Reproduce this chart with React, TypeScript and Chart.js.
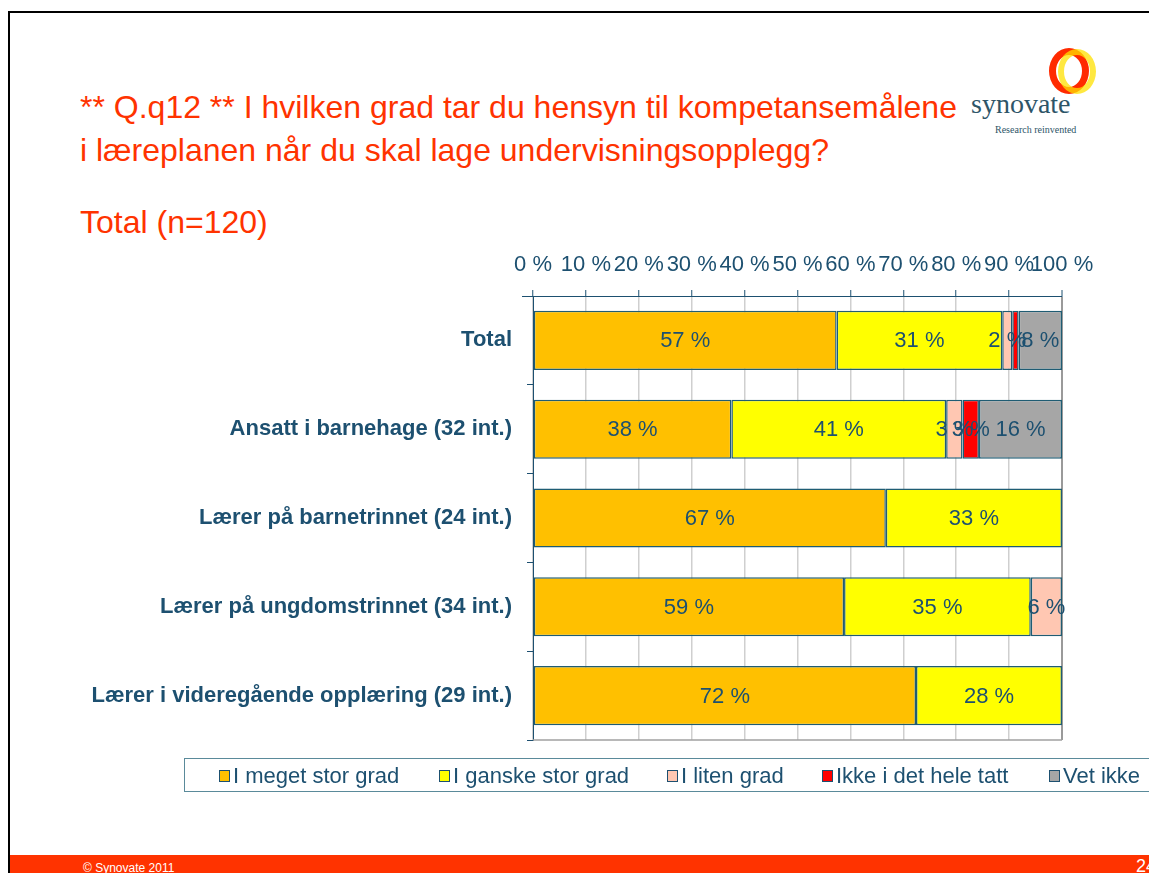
import React, { useEffect, useRef } from "react";
import { Chart, registerables } from "chart.js";

Chart.register(...registerables);

const categories = [
  "Total",
  "Ansatt i barnehage (32 int.)",
  "Lærer på barnetrinnet (24 int.)",
  "Lærer på ungdomstrinnet (34 int.)",
  "Lærer i videregående opplæring (29 int.)",
];
const seriesNames = ["I meget stor grad", "I ganske stor grad", "I liten grad", "Ikke i det hele tatt", "Vet ikke"];
const meget = [57.4, 37.5, 66.7, 58.8, 72.4];
const ganske = [31.3, 40.6, 33.3, 35.3, 27.6];
const liten = [1.9, 3.1, 0, 5.9, 0];
const ikke = [1.2, 3.1, 0, 0, 0];
const vetIkke = [8.2, 15.7, 0, 0, 0];
const xTicks = [0, 10, 20, 30, 40, 50, 60, 70, 80, 90, 100];
const colors = ["#FFC000", "#FFFF00", "#FFC7B2", "#FF0000", "#A6A6A6"];

const TEAL = "#1D5070";
const BORDER = "#1F5C73";
const FONT = "'Liberation Sans', Arial, sans-serif";

const labelPlugin = {
  id: "segLabels",
  afterDatasetsDraw(chart: any) {
    const ctx = chart.ctx;
    ctx.save();
    ctx.font = `22px ${FONT}`;
    ctx.fillStyle = TEAL;
    ctx.textAlign = "center";
    ctx.textBaseline = "middle";
    chart.data.datasets.forEach((ds: any, i: number) => {
      const meta = chart.getDatasetMeta(i);
      meta.data.forEach((el: any, j: number) => {
        const v = ds.data[j];
        if (v < 1.5) return;
        const cx = (el.x + el.base) / 2;
        ctx.fillText(Math.round(v) + " %", cx, el.y + 1);
      });
    });
    ctx.restore();
  },
  beforeDatasetsDraw(chart: any) {
    const { ctx, chartArea } = chart;
    ctx.save();
    ctx.strokeStyle = "#A0A0A0";
    ctx.lineWidth = 1.5;
    ctx.beginPath();
    ctx.moveTo(chartArea.left, chartArea.bottom);
    ctx.lineTo(chartArea.right, chartArea.bottom);
    ctx.stroke();
    ctx.strokeStyle = TEAL;
    ctx.lineWidth = 1;
    ctx.beginPath();
    ctx.moveTo(chartArea.left - 11, chartArea.top + 0.5);
    ctx.lineTo(chartArea.left, chartArea.top + 0.5);
    ctx.stroke();
    ctx.restore();
  },
};

function ChartBox() {
  const ref = useRef<HTMLCanvasElement>(null);
  useEffect(() => {
    if (!ref.current) return;
    const series = [meget, ganske, liten, ikke, vetIkke];
    const chart = new Chart(ref.current, {
      type: "bar",
      data: {
        labels: categories,
        datasets: series.map((d, i) => ({
          label: seriesNames[i],
          data: d,
          backgroundColor: colors[i],
          borderColor: BORDER,
          borderWidth: 1.5,
          borderSkipped: false,
          categoryPercentage: 1,
          barPercentage: 0.665,
        })),
      },
      options: {
        indexAxis: "y",
        animation: false,
        responsive: false,
        maintainAspectRatio: false,
        layout: { padding: { top: 0, right: 50, bottom: 30, left: 0 } },
        plugins: { legend: { display: false }, tooltip: { enabled: false } },
        scales: {
          x: {
            position: "top",
            stacked: true,
            min: 0,
            max: 100,
            afterBuildTicks: (s: any) => {
              s.ticks = xTicks.map((v) => ({ value: v }));
            },
            afterFit: (s: any) => {
              s.height = 56;
            },
            ticks: {
              color: TEAL,
              font: { family: FONT, size: 22 },
              padding: 12,
              callback: (v: any) => v + " %",
              maxRotation: 0,
              autoSkip: false,
            },
            grid: {
              color: (c: any) => (c.tick && c.tick.value === 100 ? "#9A9A9A" : "#CFCFCF"),
              lineWidth: (c: any) => (c.tick && c.tick.value === 100 ? 2 : 1.5),
              tickColor: TEAL,
              tickLength: 6,
              tickWidth: 1,
            },
            border: { display: true, color: TEAL, width: 1 },
          },
          y: {
            stacked: true,
            afterFit: (s: any) => {
              s.width = 473;
            },
            ticks: {
              color: TEAL,
              font: { family: FONT, size: 22, weight: "bold" },
              padding: 15,
            },
            grid: {
              offset: true,
              drawOnChartArea: false,
              tickColor: TEAL,
              tickLength: 6,
              tickWidth: 1,
            },
            border: { display: true, color: TEAL, width: 1 },
          },
        },
      },
      plugins: [labelPlugin],
    } as any);
    return () => chart.destroy();
  }, []);
  return (
    <canvas
      ref={ref}
      width={1052}
      height={530}
      style={{ position: "absolute", left: 60, top: 240, width: 1052, height: 530 }}
    />
  );
}

export default function App() {
  const legendXs = [219, 439, 667, 822, 1049];
  return (
    <div
      style={{
        position: "absolute",
        left: 0,
        top: 0,
        width: 1149,
        height: 873,
        overflow: "hidden",
        background: "#fff",
        fontFamily: FONT,
      }}
    >
      {/* frame */}
      <div style={{ position: "absolute", left: 8, top: 11, width: 1160, height: 900, borderLeft: "2px solid #000", borderTop: "2px solid #000" }} />
      {/* title */}
      <div style={{ position: "absolute", left: 80, top: 86, color: "#FF3300", fontSize: 32, lineHeight: "43px", whiteSpace: "nowrap" }}>
        ** Q.q12 ** I hvilken grad tar du hensyn til kompetansemålene
        <br />i læreplanen når du skal lage undervisningsopplegg?
      </div>
      <div style={{ position: "absolute", left: 80, top: 203, color: "#FF3300", fontSize: 32, lineHeight: "38px", whiteSpace: "nowrap" }}>
        Total (n=120)
      </div>
      {/* logo */}
      <div style={{ position: "absolute", left: 1049, top: 48, width: 40, height: 46, borderRadius: "50%", border: "7px solid #FF2A00", boxSizing: "border-box" }} />
      <div style={{ position: "absolute", left: 1058, top: 49, width: 38, height: 45, borderRadius: "50%", border: "6px solid #FFE000", boxSizing: "border-box", opacity: 0.75 }} />
      <div style={{ position: "absolute", left: 971, top: 89, color: "#2E5568", fontFamily: "'Liberation Serif', serif", fontSize: 28, lineHeight: "30px", whiteSpace: "nowrap" }}>
        synovate
      </div>
      <div style={{ position: "absolute", left: 995, top: 124, color: "#2E5568", fontFamily: "'Liberation Serif', serif", fontSize: 10, whiteSpace: "nowrap" }}>
        Research reinvented
      </div>
      <ChartBox />
      {/* legend */}
      <div style={{ position: "absolute", left: 184, top: 758, width: 1000, height: 34, border: "1px solid #5A8A9A", boxSizing: "border-box" }} />
      {seriesNames.map((n, i) => (
        <div key={n} style={{ position: "absolute", left: legendXs[i], top: 762, height: 28, display: "flex", alignItems: "center", whiteSpace: "nowrap" }}>
          <span style={{ display: "inline-block", width: 9, height: 10, background: colors[i], border: `1.5px solid ${TEAL}`, marginRight: 3 }} />
          <span style={{ color: TEAL, fontSize: 22 }}>{n}</span>
        </div>
      ))}
      {/* footer */}
      <div style={{ position: "absolute", left: 10, top: 855, width: 1139, height: 18, background: "#FF3300" }} />
      <div style={{ position: "absolute", left: 83, top: 861, color: "#fff", fontSize: 12, whiteSpace: "nowrap" }}>© Synovate 2011</div>
      <div style={{ position: "absolute", left: 1136, top: 856, color: "#fff", fontSize: 18, whiteSpace: "nowrap" }}>24</div>
    </div>
  );
}
